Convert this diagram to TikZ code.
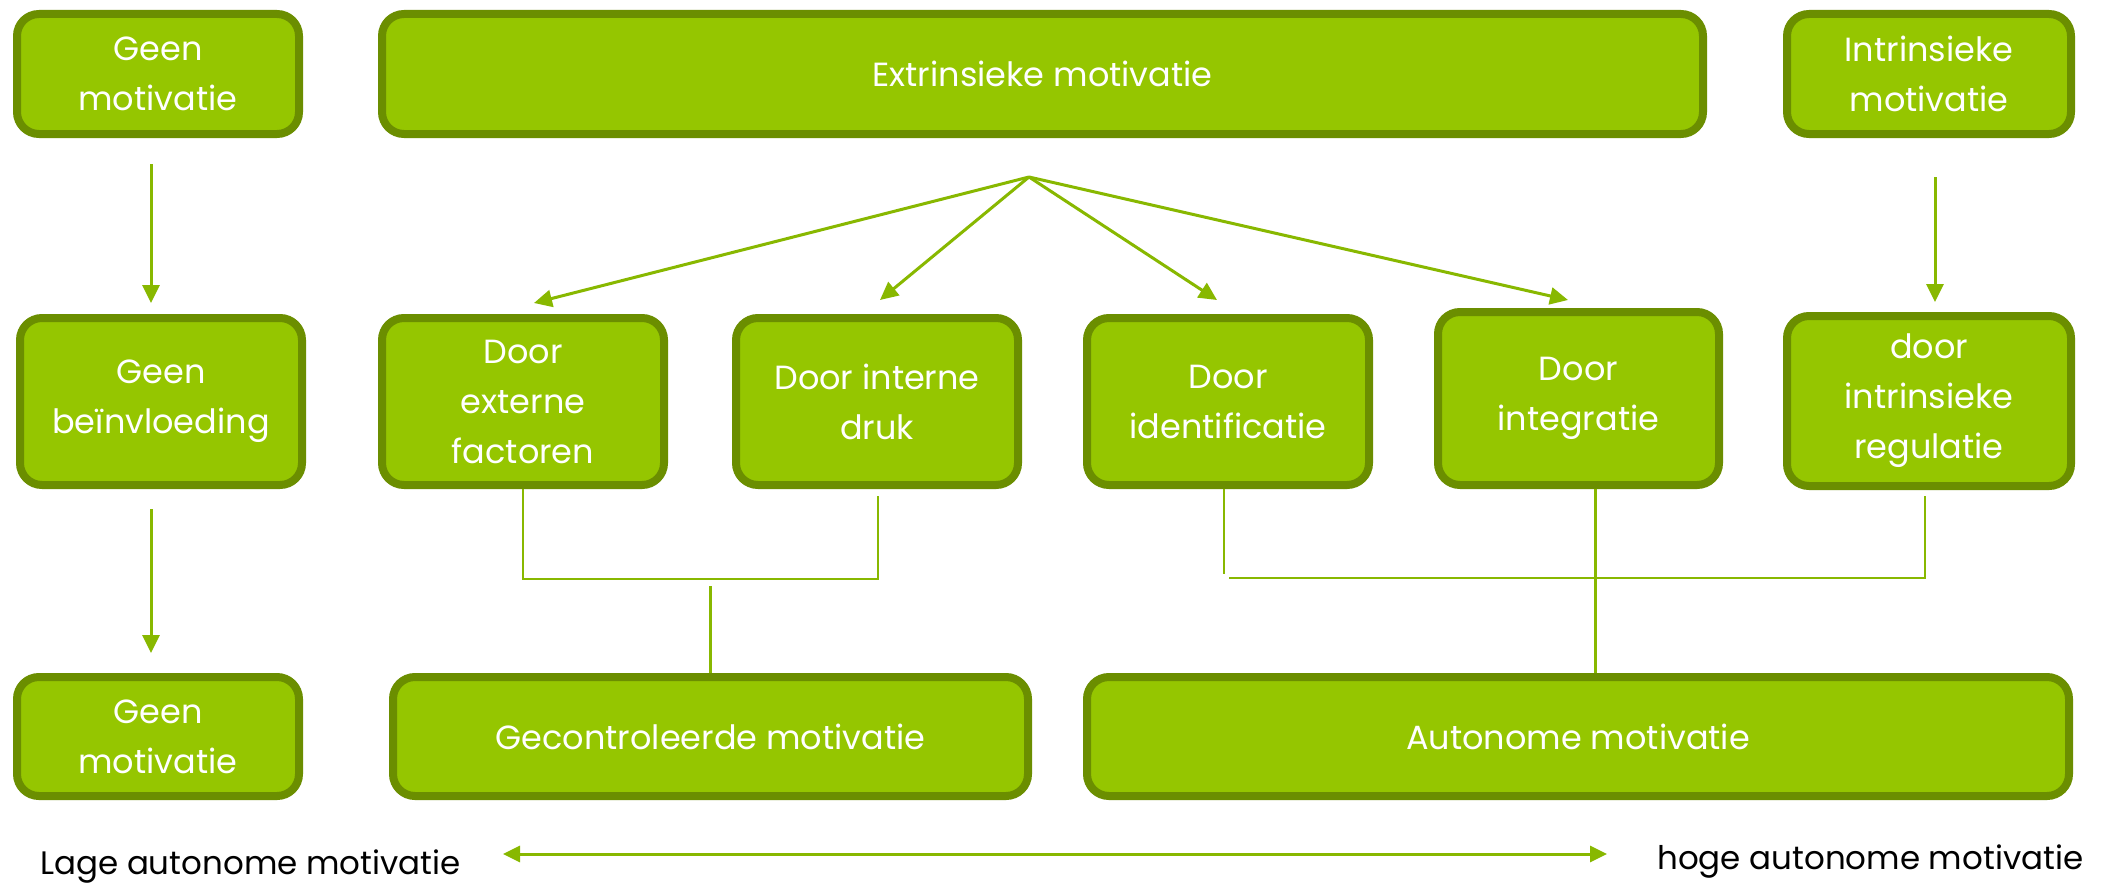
\documentclass[tikz,border=0pt]{standalone}
\usepackage{fontspec}
\setmainfont{Poppins}
\usetikzlibrary{arrows.meta,calc}
\definecolor{boxfill}{HTML}{95C600}
\definecolor{boxline}{HTML}{6B8E00}
\definecolor{conline}{HTML}{88B800}
\newcommand\mybxfont{\fontsize{33.5}{50}\selectfont}
\newcommand\mylblfont{\fontsize{32.5}{40}\selectfont}
\begin{document}
\begin{tikzpicture}[x=1pt,y=-1pt,
  mbox/.style={draw=boxline, fill=boxfill, line width=8pt, rounded corners=22pt,
    text=white, align=center, inner sep=0pt, font=\mybxfont},
  toprow/.style={mbox, minimum height=120pt},
  midrow/.style={mbox, minimum height=167pt},
  botrow/.style={mbox, minimum height=119pt},
  arr/.style={draw=conline, line width=3pt, -{Triangle[length=18pt,width=17pt]}},
  biarr/.style={draw=conline, line width=3pt, {Triangle[length=17pt,width=16pt]}-{Triangle[length=17pt,width=16pt]}},
  conn/.style={draw=conline, line width=2.5pt},
  lbl/.style={font=\mylblfont, text=black, inner sep=0pt}]
\useasboundingbox (0,0) rectangle (2102,883);
\fill[white] (0,0) rectangle (2102,883);

% top row
\node[toprow, minimum width=282pt] (A) at (158,74) {Geen\\motivatie};
\node[toprow, minimum width=1321pt] (B) at (1042.5,74) {Extrinsieke motivatie};
\node[toprow, minimum width=284pt] (C) at (1929,74) {Intrinsieke\\motivatie};

% middle row
\node[midrow, minimum width=282pt] (D) at (161,401.5) {Geen\\beïnvloeding};
\node[midrow, minimum width=282pt] (E) at (523,401.5) {Door\\externe\\factoren};
\node[midrow, minimum width=282pt] (F) at (877,401.5) {Door interne\\druk};
\node[midrow, minimum width=282pt] (G) at (1228,401.5) {Door\\identificatie};
\node[mbox, minimum width=281pt, minimum height=173pt] (H) at (1578.5,398.5) {Door\\integratie};
\node[mbox, minimum width=284pt, minimum height=170pt] (I) at (1929,401) {door\\intrinsieke\\regulatie};

% bottom row
\node[botrow, minimum width=282pt] (J) at (158,736.5) {Geen\\motivatie};
\node[botrow, minimum width=635pt] (K) at (710.5,736.5) {Gecontroleerde motivatie};
\node[botrow, minimum width=982pt] (L) at (1578,736.5) {Autonome motivatie};

% vertical arrows
\draw[arr] ($(A.south)+(-7,26)$) -- ($(D.north)+(-10,-11)$);
\draw[arr] ($(D.south)+(-10,20)$) -- ($(J.north)+(-7,-20)$);
\draw[arr] ($(C.south)+(6,39)$) -- ($(I.north)+(6,-10)$);

% fan
\coordinate (fan) at ($(B.south)+(-13.5,39)$);
\draw[arr] (fan) -- ($(E.north)+(11,-11)$);
\draw[arr] (fan) -- ($(F.north)+(3,-14)$);
\draw[arr] (fan) -- ($(G.north)+(-11,-14)$);
\draw[arr] (fan) -- ($(H.north)+(-10.5,-8)$);

% controlled
\draw[conn] (E.south) -- ++(0,90) -| ($(F.south)+(1,7)$);
\draw[conn] ($(K.north)+(0,-87)$) -- (K.north);

% autonomous
\draw[conn] ($(G.south)+(-4,0)$) -- ++(0,85);
\draw[conn] ($(G.south)+(1,89)$) -| ($(I.south)+(-4,6)$);
\coordinate (hL) at ($(H.south)+(17,0)$);
\draw[conn] (hL) -- (hL |- L.north);

% bottom scale
\node[lbl, anchor=base west] (low) at (40,874) {Lage autonome motivatie};
\node[lbl, anchor=base west] (high) at (1657,869) {hoge autonome motivatie};
\coordinate (arrL) at (503,854);
\coordinate (arrR) at (1607,854);
\draw[biarr] (arrL) -- (arrR);
\end{tikzpicture}
\end{document}
